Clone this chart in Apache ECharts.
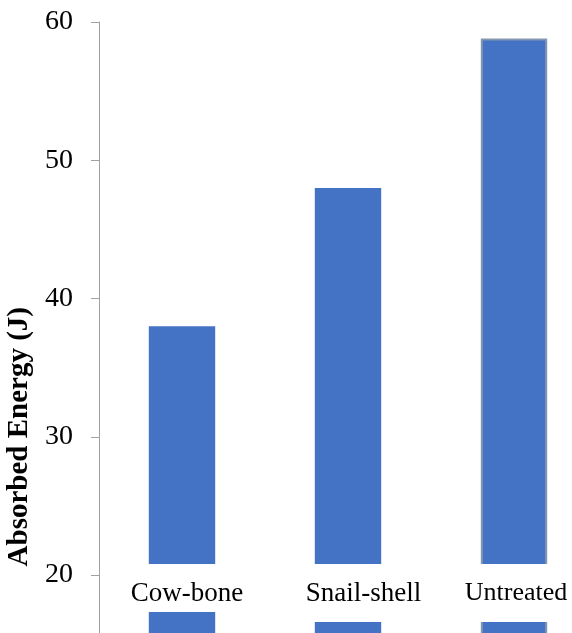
<!DOCTYPE html>
<html>
<head>
<meta charset="utf-8">
<script src="https://cdn.jsdelivr.net/npm/echarts@6/dist/echarts.min.js"></script>
<style>
html, body { margin: 0; padding: 0; overflow: hidden; background: #fff; width: 572px; height: 633px; }
#chart { width: 572px; height: 900px; }
</style>
</head>
<body>
<div id="chart"></div>
<script>
const categories = ['Cow-bone', 'Snail-shell', 'Untreated'];
const absorbedEnergy = [38, 48, 58.8];
const yTicks = [0, 10, 20, 30, 40, 50, 60];
const yTitle = 'Absorbed Energy (J)';

const font = '"Liberation Serif", "Times New Roman", serif';
const chart = echarts.init(document.getElementById('chart'), null, { renderer: 'canvas' });

// per-label box styling (white knock-out boxes behind the category names)
const labelBoxes = [
  { padding: [16, 0, 5, 10] },
  { padding: [16, 0, 15, 31] },
  { padding: [16, 0, 15, 4], fontSize: 26 }
];

chart.setOption({
  animation: false,
  backgroundColor: '#fff',
  grid: { left: 99, top: 22, right: -25, height: 829.5, containLabel: false, outerBoundsMode: 'none' },
  xAxis: {
    type: 'category',
    data: categories.map((c, i) => ({ value: c, textStyle: labelBoxes[i] })),
    offset: -287.5,
    z: 10,
    axisLine: { show: false },
    axisTick: { show: false },
    axisLabel: {
      margin: 0,
      interval: 0,
      verticalAlign: 'top',
      fontFamily: font,
      fontSize: 27,
      lineHeight: 27,
      color: '#000',
      backgroundColor: '#fff'
    }
  },
  yAxis: {
    type: 'value',
    min: 0,
    max: 60,
    interval: 10,
    name: yTitle,
    nameLocation: 'middle',
    nameGap: 54,
    nameRotate: 90,
    nameTextStyle: { fontFamily: font, fontSize: 29, fontWeight: 'bold', color: '#000' },
    axisLine: { show: true, lineStyle: { color: '#a0a0a0', width: 1 } },
    axisTick: { show: true, length: 8, lineStyle: { color: '#a0a0a0' } },
    splitLine: { show: false },
    axisLabel: {
      margin: 26,
      fontFamily: font, fontSize: 28, color: '#000',
      formatter: v => yTicks.includes(v) ? String(v) : ''
    }
  },
  series: [{
    type: 'bar',
    data: absorbedEnergy.map((v, i) => i === 2
      ? { value: v, itemStyle: { borderColor: '#8497b0', borderWidth: 2 } }
      : v),
    barWidth: '40%',
    itemStyle: { color: '#4472c4' },
    z: 2
  }]
});
</script>
</body>
</html>
